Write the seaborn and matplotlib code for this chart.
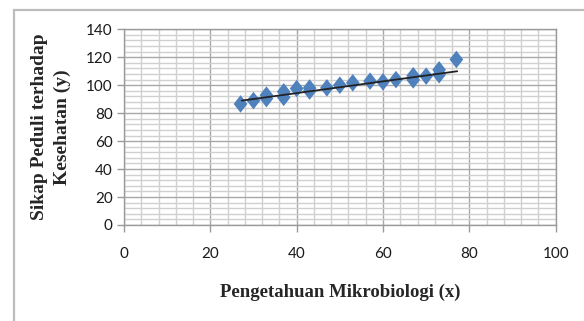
import numpy as np
import pandas as pd
import seaborn as sns
import matplotlib
matplotlib.use("Agg")
import matplotlib.pyplot as plt
from matplotlib.path import Path
from matplotlib.patches import Rectangle
from matplotlib.ticker import MultipleLocator

# Knowledge of microbiology (x) vs. health-care attitude (y)
knowledge = [27, 30, 33, 33, 37, 37, 40, 43, 43, 47, 50, 53, 57, 60, 63,
             67, 67, 70, 73, 73, 77]
attitude = [86.6, 89.0, 90.4, 92.9, 91.3, 95.3, 97.6, 95.8, 98.0, 98.1,
            100.0, 101.7, 102.9, 102.4, 104.0, 103.8, 106.8, 106.5, 107.5,
            111.0, 118.4]

# Linear trendline end points
trend_x = [27.3, 77.2]
trend_y = [89.0, 110.0]

x_ticks = [0, 20, 40, 60, 80, 100]
y_ticks = [0, 20, 40, 60, 80, 100, 120, 140]

df = pd.DataFrame({"x": knowledge, "y": attitude})
trend = pd.DataFrame({"x": trend_x, "y": trend_y})

sns.set_style("white")
plt.rcParams["font.family"] = ["Lato", "DejaVu Sans"]

fig = plt.figure(figsize=(5.84, 3.21), dpi=100)
ax = fig.add_axes([0.2123, 0.2991, 0.7392, 0.6096])

# chart frame
fig.patches.append(Rectangle((14 / 584, -0.1), 1.2, 1 - 10 / 321 + 0.1,
                             transform=fig.transFigure, fill=False,
                             edgecolor="#bdbdbd", linewidth=1.6, zorder=0))

diamond = Path([(0, 1), (0.78, 0), (0, -1), (-0.78, 0), (0, 1)],
               [Path.MOVETO, Path.LINETO, Path.LINETO, Path.LINETO, Path.CLOSEPOLY])

sns.lineplot(data=trend, x="x", y="y", ax=ax, color="#222222",
             linewidth=1.3, zorder=4)
sns.scatterplot(data=df, x="x", y="y", ax=ax, marker=diamond, s=160,
                color="#4F81BD", edgecolor="none", linewidth=0, zorder=3)

ax.set_xlim(0, 100)
ax.set_ylim(0, 140)
ax.set_xticks(x_ticks)
ax.set_yticks(y_ticks)
ax.xaxis.set_minor_locator(MultipleLocator(4))
ax.yaxis.set_minor_locator(MultipleLocator(4))
ax.grid(which="major", color="#a8a8a8", linewidth=1.0, zorder=0)
ax.grid(which="minor", color="#d0d0d0", linewidth=1.0, zorder=0)
ax.set_axisbelow(True)

for side in ["left", "bottom", "right", "top"]:
    ax.spines[side].set_visible(True)
    ax.spines[side].set_color("#9a9a9a")
    ax.spines[side].set_linewidth(1.0)

ax.tick_params(axis="both", which="major", length=5, width=1.0,
               color="#9a9a9a", labelsize=11, labelcolor="#1a1a1a")
ax.tick_params(axis="x", which="major", pad=11)
ax.tick_params(axis="y", which="major", pad=3)
ax.tick_params(which="minor", length=0)
ax.tick_params(left=True, bottom=True)

ax.set_xlabel("Pengetahuan Mikrobiologi (x)", family="Liberation Serif",
              fontweight="bold", fontsize=13.5, labelpad=16)
ax.set_ylabel("Sikap Peduli terhadap\nKesehatan (y)", family="Liberation Serif",
              fontweight="bold", fontsize=14, labelpad=11, linespacing=1.45)

fig.savefig("out.png", dpi=100)
